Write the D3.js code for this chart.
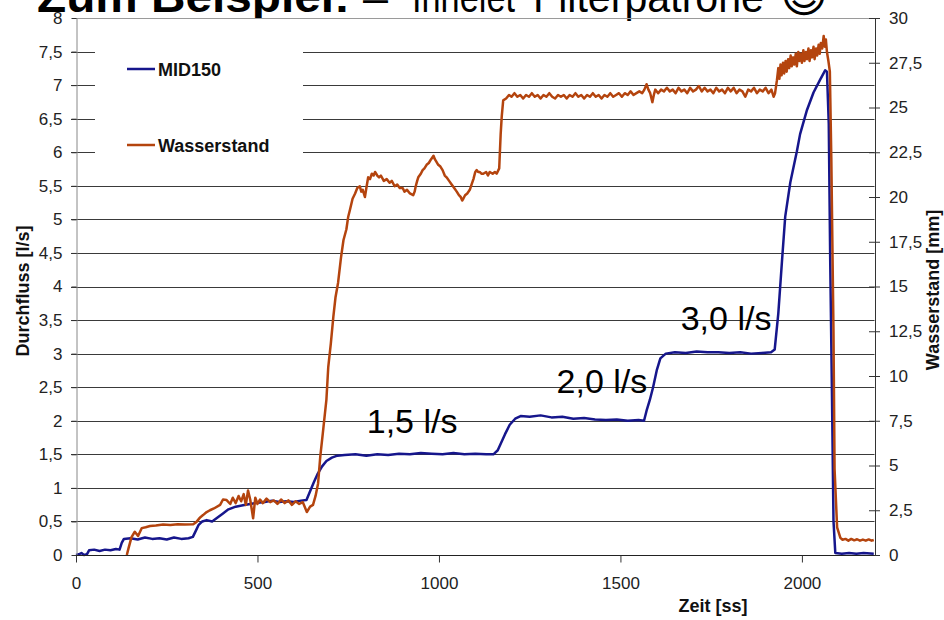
<!DOCTYPE html>
<html><head><meta charset="utf-8">
<script src="https://cdn.jsdelivr.net/npm/d3@7"></script>
<style>
body{margin:0;background:#fff}
svg{display:block;font-family:"Liberation Sans",Arial,Helvetica,sans-serif}
</style>
</head><body>
<svg id="chart" width="944" height="620"></svg>
<script>
// ---------- data ----------
const seriesNames = ["MID150", "Wasserstand"];

// MID150 flow [l/s] over time [s]
const timeFlow = [0,8,15,22,30,36,50,65,80,95,110,120,126,132,150,170,190,210,230,250,270,290,310,322,330,338,348,360,375,390,405,420,440,460,480,500,520,540,560,580,600,620,635,645,655,665,678,690,705,720,740,770,800,830,860,890,920,950,980,1010,1040,1070,1100,1130,1150,1162,1172,1182,1195,1210,1225,1250,1280,1310,1340,1370,1400,1430,1460,1490,1520,1550,1565,1572,1581,1590,1600,1610,1625,1650,1680,1710,1740,1770,1800,1830,1860,1890,1915,1925,1935,1945,1954,1968,1986,1995,2014,2032,2051,2064,2069,2074,2078,2083,2087,2092,2110,2130,2150,2170,2198];
const flow = [0.00,0.01,0.03,0.00,0.01,0.07,0.08,0.06,0.08,0.07,0.09,0.08,0.18,0.24,0.25,0.23,0.26,0.24,0.25,0.23,0.26,0.24,0.25,0.27,0.36,0.45,0.50,0.52,0.50,0.56,0.62,0.68,0.72,0.74,0.76,0.78,0.79,0.81,0.79,0.80,0.79,0.81,0.82,0.95,1.08,1.20,1.32,1.40,1.45,1.48,1.49,1.50,1.48,1.50,1.49,1.51,1.50,1.52,1.51,1.50,1.52,1.50,1.51,1.50,1.50,1.56,1.68,1.80,1.94,2.03,2.07,2.06,2.08,2.05,2.06,2.03,2.04,2.02,2.01,2.02,2.00,2.01,2.00,2.15,2.31,2.50,2.75,2.93,3.00,3.02,3.01,3.03,3.02,3.02,3.01,3.02,3.00,3.01,3.02,3.06,3.60,4.37,5.04,5.55,6.01,6.27,6.63,6.89,7.09,7.22,7.20,6.42,4.37,2.31,0.51,0.03,0.02,0.03,0.02,0.03,0.02];

// Wasserstand [mm] over time [s]
const timeLevel = [140,145,153,162,171,181,192,204,220,240,260,280,300,323,332,342,350,360,369,380,397,405,415,425,432,440,448,455,462,468,474,480,488,494,500,507,515,525,535,545,555,565,575,585,595,605,615,625,636,645,653,660,667,673,680,690,
 695,702,709,715,722,730,737,745,750,755,762,769,775,782,786,790,796,800,805,810,815,820,824,830,835,840,848,856,864,870,878,885,892,900,905,912,920,929,933,936,940,943,950,955,960,966,972,978,985,989,992,998,1004,1010,1016,1021,1028,1035,1042,1049,1055,1060,1064,1067,1072,1078,1085,1090,1095,1100,1104,1108,1112,1117,1122,1130,1135,1140,1148,1154,1159,1166,1170,1173,1177,
 1185,1193,1200,1208,1216,1224,1232,1240,1248,1256,1264,1272,1280,1288,1296,1304,1312,1320,1328,1336,1344,1352,1360,1368,1376,1384,1392,1400,1408,1416,1424,1432,1440,1448,1456,1464,1472,1480,1488,1496,1504,1512,1520,1528,1536,1544,1552,1560,1566,1572,1577,1582,1588,1592,1596,1604,1612,1620,1628,1636,1644,1652,1660,1668,1676,1684,1692,1700,1708,1716,1724,1732,1740,1748,1756,1764,1772,1780,1788,1796,1804,1812,1820,1828,1836,1844,1852,1860,1868,1876,1884,1892,1900,1908,1916,1922,1926,
 1931,1935,1938,1941,1944,1948,1951,1955,1958,1962,1965,1969,1972,1976,1979,1983,1986,1990,1993,1997,2000,2004,2007,2011,2014,2018,2021,2025,2028,2032,2035,2039,2042,2046,2049,2052,2056,2060,2063,2066,2069,2073,2077,2081,2087,2090,2097,2106,2112,2120,2128,2136,2144,2152,2160,2168,2176,2184,2192,2198];
const level = [0.0,0.4,1.0,1.3,1.06,1.5,1.55,1.62,1.65,1.7,1.68,1.72,1.7,1.72,1.85,2.1,2.23,2.4,2.5,2.6,2.8,3.1,3.07,2.85,3.2,2.9,3.3,3.0,3.4,2.8,3.6,3.1,2.05,3.2,2.85,3.1,2.9,3.15,2.95,3.05,2.85,3.1,2.9,3.05,2.8,3.0,2.85,2.95,2.4,2.7,2.8,3.3,4.0,5.5,6.8,8.7,
 10.5,11.8,13.3,14.4,15.2,16.6,17.6,18.2,18.9,19.3,19.9,20.2,20.5,20.6,20.3,20.4,20.0,20.5,21.1,21.0,21.3,21.2,21.4,21.2,21.1,21.2,20.9,21.0,20.8,20.9,20.6,20.7,20.5,20.5,20.3,20.4,20.2,20.1,20.3,20.6,20.9,21.1,21.3,21.5,21.6,21.8,21.9,22.1,22.3,22.1,22.0,21.8,21.7,21.5,21.2,21.1,20.9,20.7,20.5,20.3,20.1,20.0,19.8,19.9,20.1,20.2,20.4,20.7,21.0,21.4,21.5,21.4,21.4,21.3,21.3,21.4,21.2,21.4,21.3,21.4,21.3,21.6,23.5,24.5,25.4,
 25.5,25.7,25.6,25.8,25.6,25.7,25.5,25.7,25.6,25.8,25.6,25.7,25.5,25.7,25.6,25.8,25.6,25.5,25.7,25.6,25.7,25.5,25.7,25.6,25.8,25.6,25.7,25.5,25.7,25.6,25.8,25.6,25.7,25.5,25.7,25.6,25.8,25.6,25.7,25.8,25.6,25.8,25.7,25.9,25.7,25.8,25.9,25.8,26.0,26.3,26.0,25.8,25.3,25.7,26.0,25.8,26.0,25.9,26.1,25.9,26.0,25.8,26.1,25.9,26.0,25.8,26.1,25.9,26.0,26.2,25.9,26.1,25.9,26.0,25.8,26.1,25.9,26.0,25.8,26.1,25.9,26.1,25.8,26.0,25.9,25.6,26.0,25.9,26.1,25.8,26.0,25.9,26.1,25.8,26.0,25.6,25.8,
 26.5,27.2,26.6,27.4,26.8,27.5,26.9,27.6,27.0,27.7,27.2,27.9,27.3,27.8,27.4,28.0,27.3,28.1,27.6,28.0,27.5,28.2,27.6,28.1,27.7,28.3,27.6,28.2,27.8,28.4,27.7,28.3,27.9,28.5,28.0,28.6,28.3,29.0,28.4,28.8,28.1,27.6,27.0,22.2,12.5,4.8,1.54,0.96,0.85,0.9,0.8,0.9,0.82,0.88,0.8,0.86,0.8,0.87,0.8,0.84];

// ticks
const xTickValues = [0,500,1000,1500,2000];
const leftTickValues = [0,0.5,1,1.5,2,2.5,3,3.5,4,4.5,5,5.5,6,6.5,7,7.5,8];
const rightTickValues = [0,2.5,5,7.5,10,12.5,15,17.5,20,22.5,25,27.5,30];

// annotations (anchored in data units: time, l/s)
const annoText = ["1,5 l/s","2,0 l/s","3,0 l/s"];
const annoTime = [801,1324,1666];
const annoFlow = [1.82,2.41,3.35];

// ---------- drawing ----------
const svg = d3.select("#chart");
const L = 76, R = 874.5, T = 18, B = 555;
const x = d3.scaleLinear().domain([0,2200]).range([L,R]);
const yL = d3.scaleLinear().domain([0,8]).range([B,T]);
const yR = d3.scaleLinear().domain([0,30]).range([B,T]);
const loc = d3.formatLocale({decimal:",",thousands:".",grouping:[3],currency:["","€"]});
const fmt = loc.format("~g");
const txt = "#222";
const blue = "#16168c", orange = "#b4440e";

// title (cut off at the top)
const title = svg.append("text").attr("y",12).attr("fill","#000");
title.append("tspan").attr("x",37).attr("font-weight","bold").attr("font-size",44)
  .attr("textLength",313).attr("lengthAdjust","spacingAndGlyphs").text("Zum Beispiel:");
title.append("tspan").attr("x",363).attr("font-size",42).attr("textLength",25).attr("lengthAdjust","spacingAndGlyphs").text("–");
title.append("tspan").attr("x",412).attr("font-size",42).attr("textLength",103).attr("lengthAdjust","spacingAndGlyphs").text("Innelet");
title.append("tspan").attr("x",533).attr("font-size",42).attr("textLength",231).attr("lengthAdjust","spacingAndGlyphs").text("Filterpatrone");
title.append("tspan").attr("x",780).attr("font-size",46).attr("font-family","DejaVu Sans").text("☺");

// horizontal gridlines
svg.append("g").selectAll("line")
  .data(leftTickValues.filter(v => v > 0 && v < 8))
  .join("line")
  .attr("x1", L-5).attr("x2", R)
  .attr("y1", d => Math.round(yL(d))+0.5).attr("y2", d => Math.round(yL(d))+0.5)
  .attr("stroke","#3a3a3a").attr("stroke-width",1.1);

// top border (light grey)
svg.append("line").attr("x1",L).attr("x2",R).attr("y1",T+0.5).attr("y2",T+0.5)
  .attr("stroke","#9a9a9a").attr("stroke-width",1);

// legend box (white, hides gridlines behind it)
svg.append("rect").attr("x",95).attr("y",T+1).attr("width",208).attr("height",143).attr("fill","#fff");

// series lines
const lineFlow = d3.line().x((d,i) => x(timeFlow[i])).y(d => yL(d));
const lineLevel = d3.line().x((d,i) => x(timeLevel[i])).y(d => yR(d));
svg.append("path").datum(flow).attr("d", lineFlow)
  .attr("fill","none").attr("stroke",blue).attr("stroke-width",2.5).attr("stroke-linejoin","round");
svg.append("path").datum(level).attr("d", lineLevel)
  .attr("fill","none").attr("stroke",orange).attr("stroke-width",2.5).attr("stroke-linejoin","round");

// left axis
const gL = svg.append("g").attr("transform",`translate(${L+0.5},0)`)
  .call(d3.axisLeft(yL).tickValues(leftTickValues).tickSize(5).tickSizeOuter(0).tickPadding(9).tickFormat(fmt));
gL.select(".domain").attr("stroke","#888");
gL.selectAll(".tick line").attr("stroke","#333");
gL.selectAll("text").attr("font-size",17).attr("fill",txt).attr("font-family","Liberation Sans, Arial, sans-serif");

// right axis
const gR = svg.append("g").attr("transform",`translate(${R+0.5},0)`)
  .call(d3.axisRight(yR).tickValues(rightTickValues).tickSize(5).tickSizeOuter(0).tickPadding(9).tickFormat(fmt));
gR.select(".domain").attr("stroke","#333");
gR.selectAll(".tick line").attr("stroke","#333").attr("x1",-6);
gR.selectAll("text").attr("font-size",17).attr("fill",txt).attr("font-family","Liberation Sans, Arial, sans-serif");

// bottom axis
const gB = svg.append("g").attr("transform",`translate(0,${B+0.5})`)
  .call(d3.axisBottom(x).tickValues(xTickValues).tickSize(7).tickSizeOuter(0).tickPadding(14).tickFormat(loc.format("d")));
gB.select(".domain").attr("stroke","#222").attr("d",`M${L},0H${R}`);
gB.selectAll(".tick line").attr("stroke","#333");
gB.selectAll("text").attr("font-size",17).attr("fill",txt).attr("font-family","Liberation Sans, Arial, sans-serif");

// axis titles
svg.append("text").attr("transform","translate(29,291) rotate(-90)").attr("text-anchor","middle")
  .attr("font-weight","bold").attr("font-size",18).attr("fill","#111").text("Durchfluss [l/s]");
svg.append("text").attr("transform","translate(939,290) rotate(-90)").attr("text-anchor","middle")
  .attr("font-weight","bold").attr("font-size",18).attr("fill","#111").text("Wasserstand [mm]");
svg.append("text").attr("x",713).attr("y",612).attr("text-anchor","middle")
  .attr("font-weight","bold").attr("font-size",18).attr("fill","#111").text("Zeit [ss]");

// legend
const legColors = [blue, orange];
const legY = [69,145];
seriesNames.forEach((n,i) => {
  svg.append("line").attr("x1",127).attr("x2",155).attr("y1",legY[i]).attr("y2",legY[i])
    .attr("stroke",legColors[i]).attr("stroke-width",2.5);
  svg.append("text").attr("x",158).attr("y",legY[i]+7).attr("font-weight","bold")
    .attr("font-size",18).attr("fill","#111").text(n);
});

// annotations
svg.append("g").selectAll("text").data(annoText).join("text")
  .attr("x",(d,i) => x(annoTime[i])).attr("y",(d,i) => yL(annoFlow[i]))
  .attr("font-size",34).attr("fill","#000").text(d => d);
</script>
</body></html>
